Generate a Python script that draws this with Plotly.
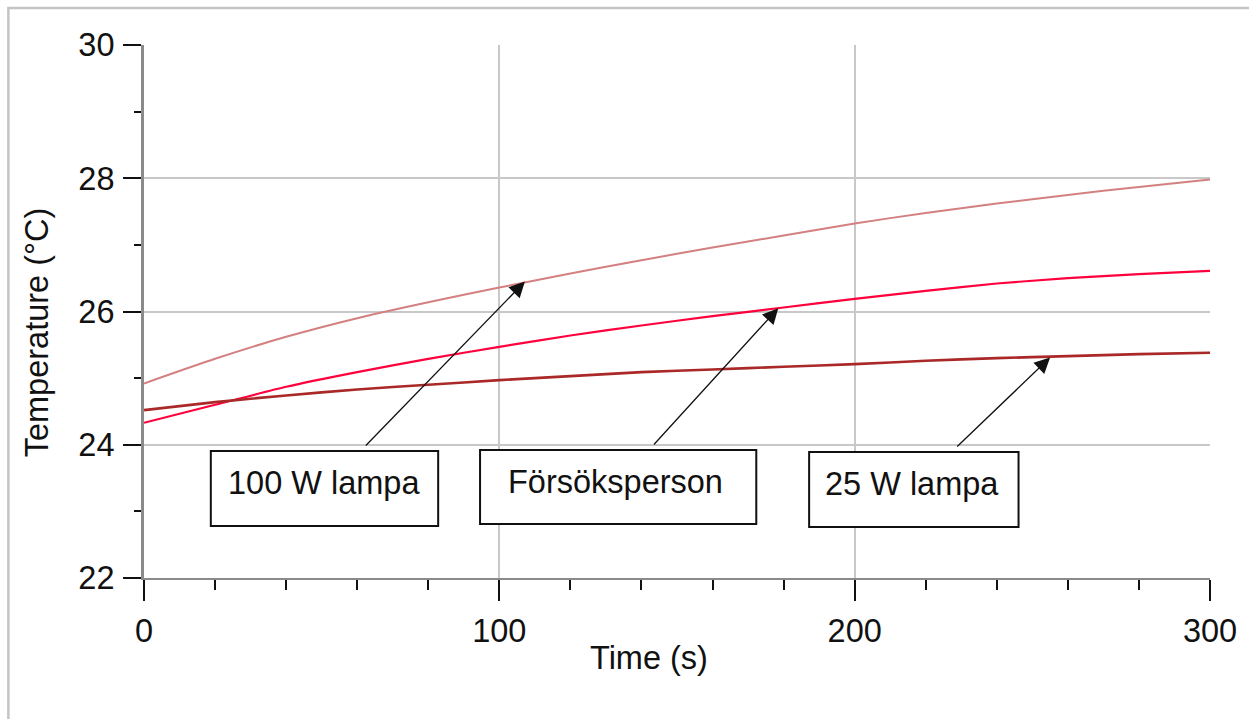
import plotly.graph_objects as go

# ---- data ----
time_s = [0, 20, 40, 60, 80, 100, 120, 140, 160, 180, 200, 220, 240, 260, 280, 300]
lamp100 = [24.92, 25.29, 25.62, 25.90, 26.14, 26.36, 26.57, 26.77, 26.96, 27.14,
           27.32, 27.48, 27.62, 27.75, 27.87, 27.98]
person = [24.33, 24.60, 24.87, 25.09, 25.29, 25.47, 25.64, 25.79, 25.93, 26.06,
          26.19, 26.31, 26.42, 26.50, 26.56, 26.61]
lamp25 = [24.52, 24.64, 24.74, 24.83, 24.90, 24.97, 25.03, 25.09, 25.13, 25.17,
          25.21, 25.26, 25.30, 25.33, 25.36, 25.38]

labels = ["100 W lampa", "Försöksperson", "25 W lampa"]
arrow_tips_t = [107.2, 178.5, 255.0]
arrow_tips_T = [26.45, 26.05, 25.31]

x_ticks = [0, 100, 200, 300]
y_ticks = [22, 24, 26, 28, 30]

# ---- layout geometry (pixels) ----
W, H = 1249, 719
L, R, T, B = 144, 1213, 45, 578
X_MIN, X_MAX, Y_MIN, Y_MAX = 0, 300, 22, 30


def dx(px):
    return X_MIN + (px - L) / (R - L) * (X_MAX - X_MIN)


def dy(py):
    return Y_MIN + (B - py) / (B - T) * (Y_MAX - Y_MIN)


def px_paper(px):
    return (px - L) / (R - L)


def py_paper(py):
    return (B - py) / (B - T)


FONT = "Liberation Sans, Arial, sans-serif"
FS = 32.5

fig = go.Figure()
series = [
    (lamp100, "rgb(212,128,128)", 2.0),
    (person, "rgb(255,0,60)", 2.2),
    (lamp25, "rgb(170,40,40)", 2.6),
]
for ys, col, w in series:
    fig.add_trace(go.Scatter(x=time_s, y=ys, mode="lines",
                             line=dict(color=col, width=w, shape="spline", smoothing=0.6),
                             showlegend=False, hoverinfo="skip"))

shapes = []
annotations = []

# outer frame
shapes.append(dict(type="rect", xref="paper", yref="paper",
                   x0=px_paper(8), x1=px_paper(1262), y0=py_paper(8), y1=py_paper(732),
                   line=dict(color="#c4c4c4", width=2.5), fillcolor="rgba(0,0,0,0)", layer="below"))

# label boxes (pixel geometry)
boxes = [(211, 439, 451, 526, 325, 483, 365, 447),
         (481, 758, 450, 524, 617, 482, 654, 446),
         (811, 1021, 452, 527, 914, 484, 958, 448)]
for i, (x0, x1, y0, y1, tx, ty, ax, ay) in enumerate(boxes):
    shapes.append(dict(type="rect", xref="x", yref="y",
                       x0=dx(x0), x1=dx(x1), y0=dy(y0), y1=dy(y1),
                       line=dict(color="#111", width=2), fillcolor="white", layer="above"))
    annotations.append(dict(x=dx(tx), y=dy(ty), xref="x", yref="y", text=labels[i],
                            showarrow=False, xanchor="center", yanchor="middle",
                            font=dict(family=FONT, size=FS, color="#111")))
    annotations.append(dict(x=arrow_tips_t[i], y=arrow_tips_T[i], xref="x", yref="y",
                            ax=dx(ax), ay=dy(ay), axref="x", ayref="y", text="",
                            showarrow=True, arrowhead=2, arrowsize=2.4, arrowwidth=1.3,
                            arrowcolor="#111", standoff=0))

# axis titles
annotations.append(dict(x=px_paper(650), y=py_paper(658), xref="paper", yref="paper",
                        text="Time (s)", showarrow=False, xanchor="center", yanchor="middle",
                        font=dict(family=FONT, size=FS, color="#111")))
annotations.append(dict(x=px_paper(37), y=py_paper(332), xref="paper", yref="paper",
                        text="Temperature (°C)", showarrow=False, textangle=-90,
                        xanchor="center", yanchor="middle",
                        font=dict(family=FONT, size=FS, color="#111")))

fig.update_layout(
    width=W, height=H, autosize=False,
    margin=dict(l=L, r=W - R, t=T, b=H - B, pad=0),
    paper_bgcolor="white", plot_bgcolor="white",
    shapes=shapes, annotations=annotations,
    font=dict(family=FONT, size=FS, color="#111"),
)
fig.update_xaxes(range=[X_MIN, X_MAX], tickvals=x_ticks, ticktext=[str(v) for v in x_ticks],
                 showgrid=True, gridcolor="#c8c8c8", gridwidth=2, zeroline=False,
                 showline=True, linecolor="#8a8a8a", linewidth=2,
                 ticks="outside", ticklen=21, tickwidth=2, tickcolor="#111",
                 minor=dict(dtick=20, ticks="outside", ticklen=10, tickwidth=2,
                            tickcolor="#111", showgrid=False),
                 tickfont=dict(family=FONT, size=FS, color="#111"), ticklabelstandoff=2)
fig.update_yaxes(range=[Y_MIN, Y_MAX], tickvals=y_ticks, ticktext=[str(v) for v in y_ticks],
                 showgrid=True, gridcolor="#c8c8c8", gridwidth=2, zeroline=False,
                 showline=True, linecolor="#8a8a8a", linewidth=3,
                 ticks="outside", ticklen=18, tickwidth=2, tickcolor="#111",
                 minor=dict(dtick=1, ticks="outside", ticklen=7, tickwidth=2,
                            tickcolor="#111", showgrid=False),
                 tickfont=dict(family=FONT, size=FS, color="#111"), ticklabelstandoff=2)

fig.write_html("out.html", config={"displayModeBar": False},
               post_script="document.body.style.margin='0';")
